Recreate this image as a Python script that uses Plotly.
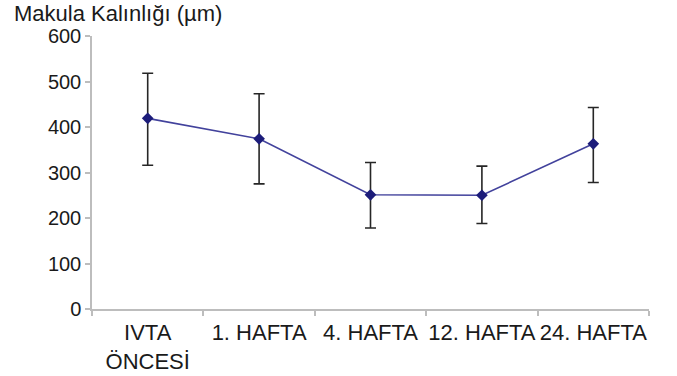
import plotly.graph_objects as go

categories = ["IVTA<br>ÖNCESİ", "1. HAFTA", "4. HAFTA", "12. HAFTA", "24. HAFTA"]
means = [419, 374, 251, 250, 363]
err_plus = [99, 99, 71, 64, 80]
err_minus = [103, 99, 73, 62, 85]
y_ticks = [0, 100, 200, 300, 400, 500, 600]

font_family = "Liberation Sans, Arial, sans-serif"

fig = go.Figure()
fig.add_trace(go.Scatter(
    x=categories,
    y=means,
    mode="lines+markers",
    line=dict(color="#42429c", width=1.6),
    marker=dict(symbol="diamond", size=9, color="#1c1c7a"),
    error_y=dict(type="data", symmetric=False, array=err_plus, arrayminus=err_minus,
                 color="#262626", thickness=1.6, width=5.5),
    showlegend=False,
))

fig.update_layout(
    width=677, height=376,
    margin=dict(l=92, r=28, t=36, b=67, autoexpand=False),
    paper_bgcolor="white", plot_bgcolor="white",
    font=dict(family=font_family, color="#1a1a1a"),
    title=dict(text="Makula Kalınlığı (µm)", x=14 / 677, xanchor="left",
               xref="container", yref="container", y=1 - 6 / 376, yanchor="top",
               font=dict(size=22, color="#1a1a1a", family=font_family)),
)
fig.update_xaxes(
    type="category", range=[-0.5, 4.5], tickangle=0, automargin=False,
    showline=True, linecolor="#bdbdbd", linewidth=1.5,
    ticks="outside", tickson="boundaries", ticklen=5, tickcolor="#bdbdbd", tickwidth=1.5,
    showgrid=False, zeroline=False, ticklabelstandoff=3,
    tickfont=dict(size=22, color="#1a1a1a"),
)
fig.update_yaxes(
    range=[0, 600], tickvals=y_ticks, automargin=False,
    showline=True, linecolor="#bdbdbd", linewidth=1.5,
    ticks="outside", ticklen=5, tickcolor="#bdbdbd", tickwidth=1.5,
    showgrid=False, zeroline=False,
    tickfont=dict(size=20, color="#1a1a1a"),
)

fig.write_html("out.html", config={"displayModeBar": False},
               post_script="document.body.style.margin='0';")
